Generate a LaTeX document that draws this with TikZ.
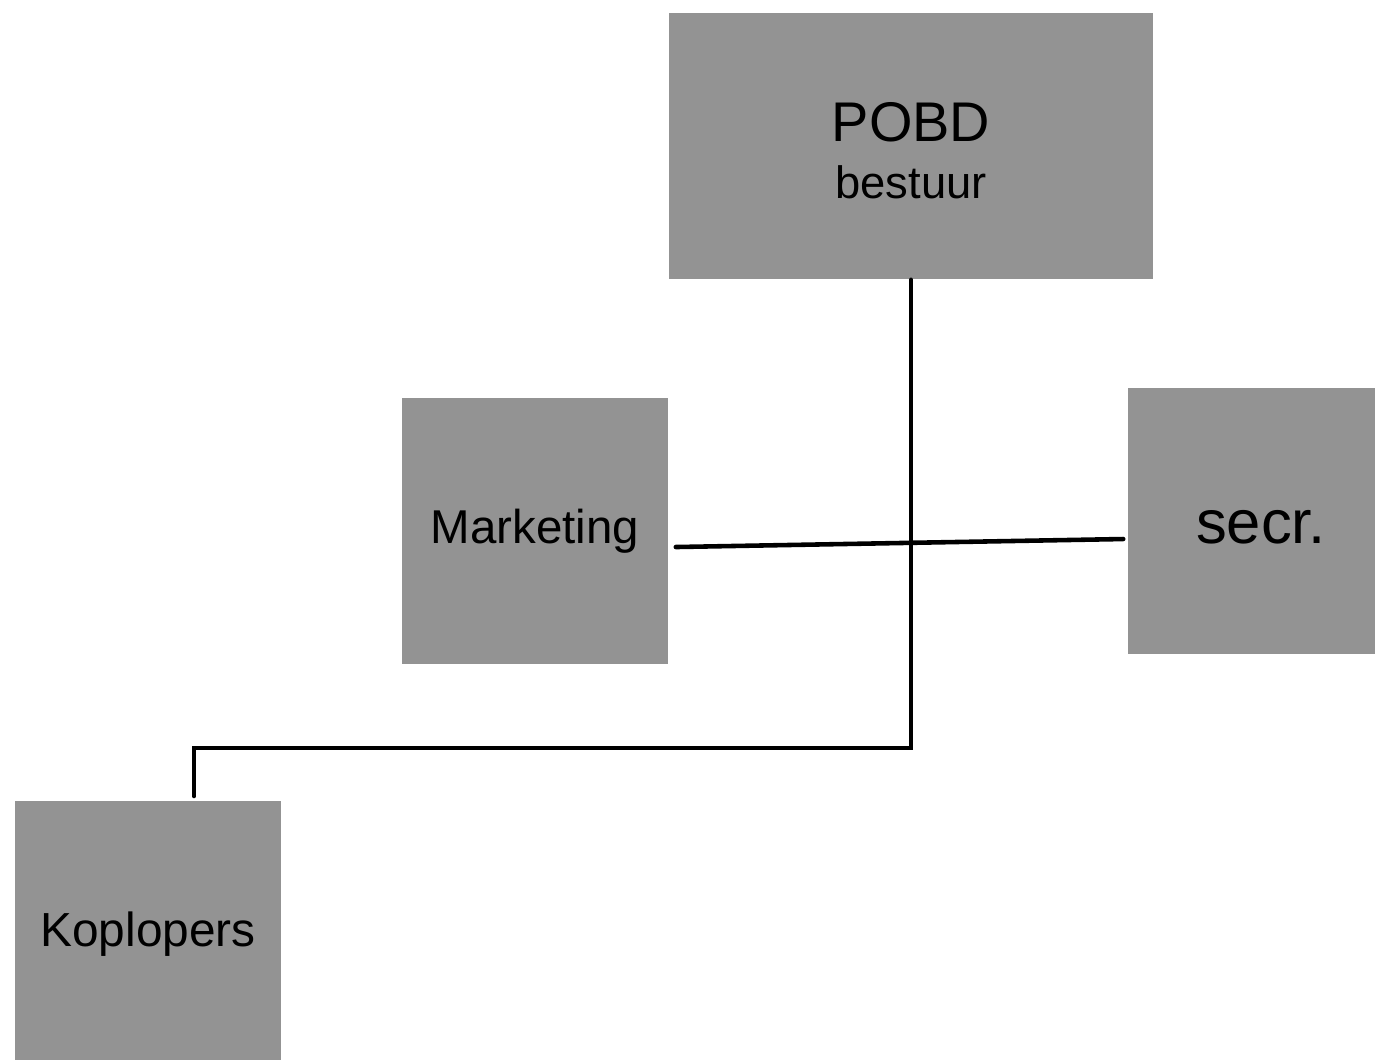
\documentclass[tikz,border=0pt]{standalone}
\usepackage{fontspec}
\setmainfont{Liberation Sans}
\usepackage{xcolor}
\usetikzlibrary{positioning,calc}
\definecolor{boxgray}{RGB}{147,147,147}

\begin{document}
\begin{tikzpicture}[x=0.01cm,y=-0.01cm,
    unit/.style={fill=boxgray,draw=none,inner sep=0pt,minimum width=2.66cm,minimum height=2.66cm,align=center},
    link/.style={line width=1.3pt,line cap=round,line join=miter}]
  \useasboundingbox (0,0) rectangle (1375,1059);
  \node[unit,minimum width=4.84cm] (pobd) at (911,146) {};
  \node[inner sep=0pt,align=center] (pobdtxt) at (911,151) {\fontsize{15.9}{18}\selectfont POBD\\[0.15cm]\fontsize{12.9}{15}\selectfont bestuur};
  \node[unit] (mkt) at (535,531) {\fontsize{13.5}{16}\selectfont Marketing};
  \node[unit,minimum width=2.47cm] (secr) at (1251.5,521) {};
  \node[inner sep=0pt] (secrtxt) at (1261,527) {\fontsize{17.5}{20}\selectfont secr.};
  \node[unit] (kop) at (148,934) {\fontsize{13.6}{16}\selectfont Koplopers};
  \coordinate (kopin) at (194,796);
  \draw[link] (pobd.south) -- (pobd.south |- 0,748) -| (kopin);
  \draw[link] ([xshift=0.07cm,yshift=-0.16cm]mkt.east) -- ([xshift=-0.04cm,yshift=-0.18cm]secr.west);
\end{tikzpicture}
\end{document}
